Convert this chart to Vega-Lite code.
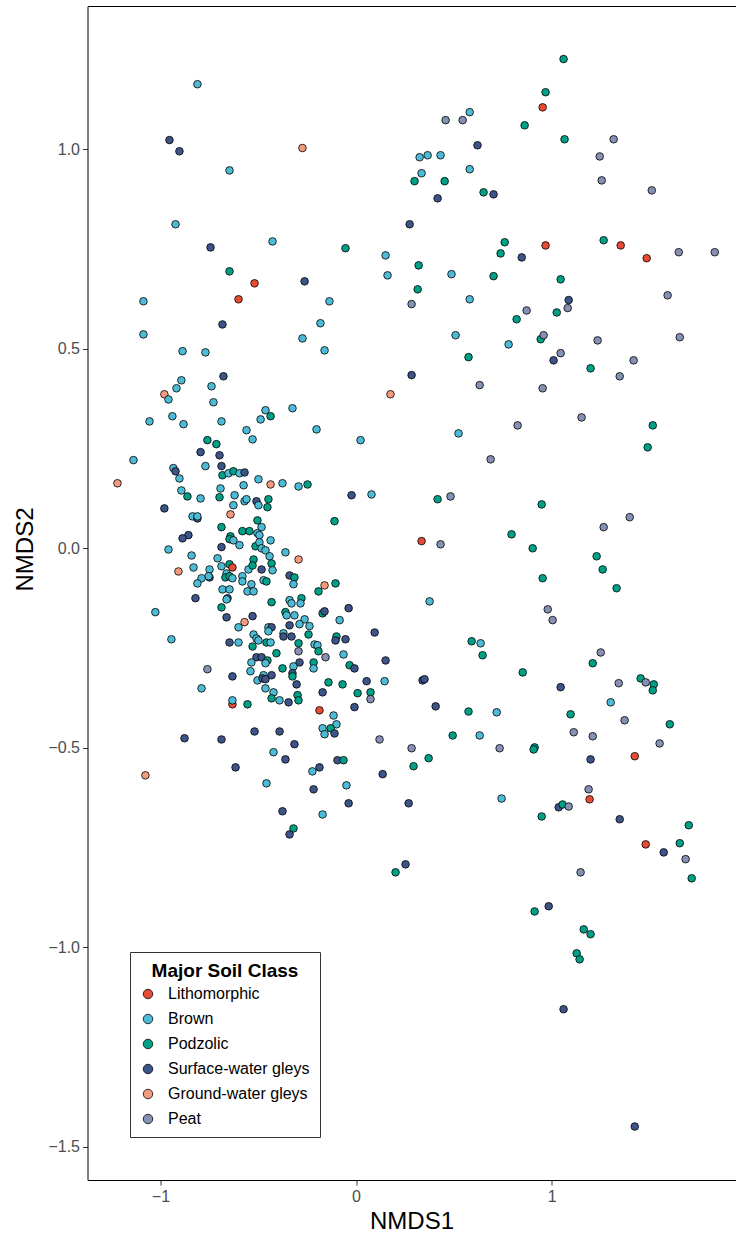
{
"$schema": "https://vega.github.io/schema/vega-lite/v6.json",
"width": 648,
"height": 1174,
"autosize": {"type": "none"},
"padding": {"left": 87.5, "top": 6, "right": 0, "bottom": 57},
"config": {"view": {"stroke": null}, "font": "Liberation Sans"},
"data": {"values": [
{"nmds1":-0.811,"nmds2":1.163,"soil":"Brown"},
{"nmds1":-0.954,"nmds2":1.023,"soil":"Surface-water gleys"},
{"nmds1":-0.903,"nmds2":0.995,"soil":"Surface-water gleys"},
{"nmds1":-0.274,"nmds2":1.003,"soil":"Ground-water gleys"},
{"nmds1":-0.647,"nmds2":0.947,"soil":"Brown"},
{"nmds1":-0.923,"nmds2":0.812,"soil":"Brown"},
{"nmds1":-0.744,"nmds2":0.754,"soil":"Surface-water gleys"},
{"nmds1":-0.427,"nmds2":0.769,"soil":"Brown"},
{"nmds1":-0.054,"nmds2":0.752,"soil":"Podzolic"},
{"nmds1":-0.647,"nmds2":0.694,"soil":"Podzolic"},
{"nmds1":-0.519,"nmds2":0.664,"soil":"Lithomorphic"},
{"nmds1":-0.263,"nmds2":0.669,"soil":"Surface-water gleys"},
{"nmds1":-1.087,"nmds2":0.619,"soil":"Brown"},
{"nmds1":-0.601,"nmds2":0.624,"soil":"Lithomorphic"},
{"nmds1":-0.136,"nmds2":0.619,"soil":"Brown"},
{"nmds1":1.061,"nmds2":1.226,"soil":"Podzolic"},
{"nmds1":0.969,"nmds2":1.143,"soil":"Podzolic"},
{"nmds1":0.954,"nmds2":1.105,"soil":"Lithomorphic"},
{"nmds1":0.458,"nmds2":1.073,"soil":"Peat"},
{"nmds1":0.545,"nmds2":1.073,"soil":"Peat"},
{"nmds1":0.581,"nmds2":1.093,"soil":"Brown"},
{"nmds1":0.862,"nmds2":1.060,"soil":"Podzolic"},
{"nmds1":0.621,"nmds2":1.010,"soil":"Surface-water gleys"},
{"nmds1":1.066,"nmds2":1.025,"soil":"Podzolic"},
{"nmds1":1.317,"nmds2":1.025,"soil":"Peat"},
{"nmds1":1.246,"nmds2":0.982,"soil":"Peat"},
{"nmds1":0.325,"nmds2":0.980,"soil":"Brown"},
{"nmds1":0.366,"nmds2":0.985,"soil":"Brown"},
{"nmds1":0.432,"nmds2":0.985,"soil":"Brown"},
{"nmds1":0.581,"nmds2":0.950,"soil":"Brown"},
{"nmds1":0.335,"nmds2":0.940,"soil":"Brown"},
{"nmds1":0.299,"nmds2":0.920,"soil":"Podzolic"},
{"nmds1":0.453,"nmds2":0.920,"soil":"Podzolic"},
{"nmds1":1.256,"nmds2":0.922,"soil":"Peat"},
{"nmds1":0.652,"nmds2":0.892,"soil":"Podzolic"},
{"nmds1":0.703,"nmds2":0.887,"soil":"Surface-water gleys"},
{"nmds1":0.417,"nmds2":0.877,"soil":"Surface-water gleys"},
{"nmds1":1.512,"nmds2":0.897,"soil":"Peat"},
{"nmds1":0.274,"nmds2":0.812,"soil":"Surface-water gleys"},
{"nmds1":0.151,"nmds2":0.734,"soil":"Brown"},
{"nmds1":0.760,"nmds2":0.767,"soil":"Podzolic"},
{"nmds1":0.739,"nmds2":0.739,"soil":"Podzolic"},
{"nmds1":0.847,"nmds2":0.729,"soil":"Surface-water gleys"},
{"nmds1":0.969,"nmds2":0.759,"soil":"Lithomorphic"},
{"nmds1":1.266,"nmds2":0.772,"soil":"Podzolic"},
{"nmds1":1.353,"nmds2":0.759,"soil":"Lithomorphic"},
{"nmds1":1.486,"nmds2":0.727,"soil":"Lithomorphic"},
{"nmds1":1.650,"nmds2":0.742,"soil":"Peat"},
{"nmds1":1.834,"nmds2":0.742,"soil":"Peat"},
{"nmds1":0.161,"nmds2":0.684,"soil":"Brown"},
{"nmds1":0.320,"nmds2":0.709,"soil":"Podzolic"},
{"nmds1":0.488,"nmds2":0.687,"soil":"Brown"},
{"nmds1":0.703,"nmds2":0.682,"soil":"Podzolic"},
{"nmds1":1.046,"nmds2":0.674,"soil":"Podzolic"},
{"nmds1":0.315,"nmds2":0.649,"soil":"Podzolic"},
{"nmds1":0.581,"nmds2":0.624,"soil":"Brown"},
{"nmds1":1.087,"nmds2":0.622,"soil":"Surface-water gleys"},
{"nmds1":1.593,"nmds2":0.634,"soil":"Peat"},
{"nmds1":0.284,"nmds2":0.612,"soil":"Peat"},
{"nmds1":1.082,"nmds2":0.602,"soil":"Peat"},
{"nmds1":0.872,"nmds2":0.596,"soil":"Peat"},
{"nmds1":1.026,"nmds2":0.591,"soil":"Podzolic"},
{"nmds1":0.821,"nmds2":0.574,"soil":"Podzolic"},
{"nmds1":0.509,"nmds2":0.534,"soil":"Brown"},
{"nmds1":0.780,"nmds2":0.511,"soil":"Brown"},
{"nmds1":0.944,"nmds2":0.524,"soil":"Podzolic"},
{"nmds1":0.959,"nmds2":0.534,"soil":"Peat"},
{"nmds1":1.235,"nmds2":0.521,"soil":"Peat"},
{"nmds1":1.655,"nmds2":0.529,"soil":"Peat"},
{"nmds1":1.046,"nmds2":0.489,"soil":"Peat"},
{"nmds1":1.010,"nmds2":0.471,"soil":"Surface-water gleys"},
{"nmds1":0.575,"nmds2":0.479,"soil":"Podzolic"},
{"nmds1":1.199,"nmds2":0.451,"soil":"Podzolic"},
{"nmds1":1.419,"nmds2":0.471,"soil":"Peat"},
{"nmds1":1.348,"nmds2":0.431,"soil":"Peat"},
{"nmds1":0.632,"nmds2":0.409,"soil":"Peat"},
{"nmds1":0.954,"nmds2":0.401,"soil":"Peat"},
{"nmds1":1.153,"nmds2":0.328,"soil":"Peat"},
{"nmds1":0.826,"nmds2":0.308,"soil":"Peat"},
{"nmds1":1.517,"nmds2":0.308,"soil":"Podzolic"},
{"nmds1":1.491,"nmds2":0.253,"soil":"Podzolic"},
{"nmds1":0.524,"nmds2":0.288,"soil":"Brown"},
{"nmds1":0.688,"nmds2":0.223,"soil":"Peat"},
{"nmds1":0.417,"nmds2":0.123,"soil":"Podzolic"},
{"nmds1":0.483,"nmds2":0.130,"soil":"Peat"},
{"nmds1":0.949,"nmds2":0.110,"soil":"Podzolic"},
{"nmds1":1.399,"nmds2":0.078,"soil":"Peat"},
{"nmds1":1.266,"nmds2":0.053,"soil":"Peat"},
{"nmds1":0.795,"nmds2":0.035,"soil":"Podzolic"},
{"nmds1":0.903,"nmds2":0.000,"soil":"Podzolic"},
{"nmds1":1.230,"nmds2":-0.020,"soil":"Podzolic"},
{"nmds1":0.335,"nmds2":0.018,"soil":"Lithomorphic"},
{"nmds1":0.432,"nmds2":0.010,"soil":"Peat"},
{"nmds1":-0.182,"nmds2":0.564,"soil":"Brown"},
{"nmds1":-0.274,"nmds2":0.526,"soil":"Brown"},
{"nmds1":-0.161,"nmds2":0.496,"soil":"Brown"},
{"nmds1":0.284,"nmds2":0.434,"soil":"Surface-water gleys"},
{"nmds1":0.176,"nmds2":0.386,"soil":"Ground-water gleys"},
{"nmds1":-0.463,"nmds2":0.346,"soil":"Brown"},
{"nmds1":-0.488,"nmds2":0.323,"soil":"Brown"},
{"nmds1":-0.437,"nmds2":0.331,"soil":"Podzolic"},
{"nmds1":-0.325,"nmds2":0.351,"soil":"Brown"},
{"nmds1":-0.202,"nmds2":0.298,"soil":"Brown"},
{"nmds1":-0.529,"nmds2":0.273,"soil":"Brown"},
{"nmds1":0.023,"nmds2":0.271,"soil":"Brown"},
{"nmds1":-0.499,"nmds2":0.173,"soil":"Brown"},
{"nmds1":-0.437,"nmds2":0.160,"soil":"Ground-water gleys"},
{"nmds1":-0.376,"nmds2":0.163,"soil":"Brown"},
{"nmds1":-0.294,"nmds2":0.155,"soil":"Brown"},
{"nmds1":-0.248,"nmds2":0.160,"soil":"Podzolic"},
{"nmds1":-0.023,"nmds2":0.133,"soil":"Surface-water gleys"},
{"nmds1":0.079,"nmds2":0.135,"soil":"Brown"},
{"nmds1":-0.683,"nmds2":0.561,"soil":"Surface-water gleys"},
{"nmds1":-1.087,"nmds2":0.536,"soil":"Brown"},
{"nmds1":-0.887,"nmds2":0.494,"soil":"Brown"},
{"nmds1":-0.770,"nmds2":0.491,"soil":"Brown"},
{"nmds1":-0.678,"nmds2":0.431,"soil":"Surface-water gleys"},
{"nmds1":-0.893,"nmds2":0.421,"soil":"Brown"},
{"nmds1":-0.918,"nmds2":0.401,"soil":"Brown"},
{"nmds1":-0.739,"nmds2":0.406,"soil":"Brown"},
{"nmds1":-0.980,"nmds2":0.386,"soil":"Ground-water gleys"},
{"nmds1":-0.959,"nmds2":0.373,"soil":"Brown"},
{"nmds1":-0.729,"nmds2":0.366,"soil":"Brown"},
{"nmds1":-1.056,"nmds2":0.318,"soil":"Brown"},
{"nmds1":-0.939,"nmds2":0.331,"soil":"Brown"},
{"nmds1":-0.882,"nmds2":0.311,"soil":"Brown"},
{"nmds1":-0.688,"nmds2":0.318,"soil":"Brown"},
{"nmds1":-0.560,"nmds2":0.296,"soil":"Brown"},
{"nmds1":-0.760,"nmds2":0.271,"soil":"Podzolic"},
{"nmds1":-0.714,"nmds2":0.261,"soil":"Podzolic"},
{"nmds1":-0.795,"nmds2":0.241,"soil":"Surface-water gleys"},
{"nmds1":-0.698,"nmds2":0.233,"soil":"Surface-water gleys"},
{"nmds1":-1.138,"nmds2":0.221,"soil":"Brown"},
{"nmds1":-0.934,"nmds2":0.201,"soil":"Brown"},
{"nmds1":-0.923,"nmds2":0.193,"soil":"Surface-water gleys"},
{"nmds1":-0.903,"nmds2":0.175,"soil":"Brown"},
{"nmds1":-0.770,"nmds2":0.206,"soil":"Brown"},
{"nmds1":-0.688,"nmds2":0.206,"soil":"Surface-water gleys"},
{"nmds1":-0.683,"nmds2":0.183,"soil":"Podzolic"},
{"nmds1":-0.652,"nmds2":0.188,"soil":"Brown"},
{"nmds1":-0.627,"nmds2":0.193,"soil":"Podzolic"},
{"nmds1":-0.596,"nmds2":0.188,"soil":"Brown"},
{"nmds1":-0.570,"nmds2":0.190,"soil":"Surface-water gleys"},
{"nmds1":-1.220,"nmds2":0.163,"soil":"Ground-water gleys"},
{"nmds1":-0.575,"nmds2":0.158,"soil":"Brown"},
{"nmds1":-0.693,"nmds2":0.150,"soil":"Brown"},
{"nmds1":-0.893,"nmds2":0.145,"soil":"Brown"},
{"nmds1":-0.862,"nmds2":0.130,"soil":"Podzolic"},
{"nmds1":-0.795,"nmds2":0.125,"soil":"Brown"},
{"nmds1":-0.698,"nmds2":0.128,"soil":"Podzolic"},
{"nmds1":-0.621,"nmds2":0.133,"soil":"Brown"},
{"nmds1":-0.627,"nmds2":0.108,"soil":"Brown"},
{"nmds1":-0.570,"nmds2":0.118,"soil":"Brown"},
{"nmds1":-0.560,"nmds2":0.123,"soil":"Brown"},
{"nmds1":-0.509,"nmds2":0.118,"soil":"Surface-water gleys"},
{"nmds1":-0.980,"nmds2":0.100,"soil":"Surface-water gleys"},
{"nmds1":-0.836,"nmds2":0.080,"soil":"Brown"},
{"nmds1":-0.811,"nmds2":0.075,"soil":"Surface-water gleys"},
{"nmds1":-0.811,"nmds2":0.080,"soil":"Brown"},
{"nmds1":-0.642,"nmds2":0.085,"soil":"Ground-water gleys"},
{"nmds1":-0.688,"nmds2":0.053,"soil":"Podzolic"},
{"nmds1":-0.581,"nmds2":0.043,"soil":"Podzolic"},
{"nmds1":-0.545,"nmds2":0.043,"soil":"Podzolic"},
{"nmds1":-0.504,"nmds2":0.070,"soil":"Podzolic"},
{"nmds1":-0.857,"nmds2":0.033,"soil":"Surface-water gleys"},
{"nmds1":-0.887,"nmds2":0.025,"soil":"Surface-water gleys"},
{"nmds1":-0.642,"nmds2":0.030,"soil":"Podzolic"},
{"nmds1":-0.647,"nmds2":0.023,"soil":"Podzolic"},
{"nmds1":-0.627,"nmds2":0.020,"soil":"Brown"},
{"nmds1":-0.596,"nmds2":0.008,"soil":"Brown"},
{"nmds1":-0.514,"nmds2":0.005,"soil":"Podzolic"},
{"nmds1":-0.504,"nmds2":0.038,"soil":"Brown"},
{"nmds1":-0.959,"nmds2":-0.003,"soil":"Brown"},
{"nmds1":-0.688,"nmds2":0.003,"soil":"Surface-water gleys"},
{"nmds1":-0.841,"nmds2":-0.018,"soil":"Brown"},
{"nmds1":-0.708,"nmds2":-0.025,"soil":"Brown"},
{"nmds1":-0.524,"nmds2":-0.028,"soil":"Podzolic"},
{"nmds1":-0.831,"nmds2":-0.048,"soil":"Brown"},
{"nmds1":-0.908,"nmds2":-0.058,"soil":"Ground-water gleys"},
{"nmds1":-0.749,"nmds2":-0.053,"soil":"Brown"},
{"nmds1":-0.688,"nmds2":-0.045,"soil":"Brown"},
{"nmds1":-0.647,"nmds2":-0.040,"soil":"Podzolic"},
{"nmds1":-0.632,"nmds2":-0.048,"soil":"Lithomorphic"},
{"nmds1":-0.662,"nmds2":-0.063,"soil":"Brown"},
{"nmds1":-0.668,"nmds2":-0.073,"soil":"Podzolic"},
{"nmds1":-0.647,"nmds2":-0.070,"soil":"Podzolic"},
{"nmds1":-0.632,"nmds2":-0.075,"soil":"Brown"},
{"nmds1":-0.581,"nmds2":-0.070,"soil":"Brown"},
{"nmds1":-0.550,"nmds2":-0.053,"soil":"Brown"},
{"nmds1":-0.529,"nmds2":-0.043,"soil":"Podzolic"},
{"nmds1":-0.749,"nmds2":-0.073,"soil":"Surface-water gleys"},
{"nmds1":-0.754,"nmds2":-0.070,"soil":"Brown"},
{"nmds1":-0.790,"nmds2":-0.075,"soil":"Brown"},
{"nmds1":-0.811,"nmds2":-0.088,"soil":"Brown"},
{"nmds1":-0.581,"nmds2":-0.083,"soil":"Brown"},
{"nmds1":-0.535,"nmds2":-0.090,"soil":"Brown"},
{"nmds1":-0.555,"nmds2":-0.108,"soil":"Brown"},
{"nmds1":-0.524,"nmds2":-0.108,"soil":"Brown"},
{"nmds1":-0.683,"nmds2":-0.103,"soil":"Brown"},
{"nmds1":-0.647,"nmds2":-0.103,"soil":"Brown"},
{"nmds1":-0.657,"nmds2":-0.125,"soil":"Surface-water gleys"},
{"nmds1":-0.662,"nmds2":-0.128,"soil":"Brown"},
{"nmds1":-0.821,"nmds2":-0.125,"soil":"Surface-water gleys"},
{"nmds1":-0.688,"nmds2":-0.148,"soil":"Podzolic"},
{"nmds1":-1.026,"nmds2":-0.160,"soil":"Brown"},
{"nmds1":-0.662,"nmds2":-0.173,"soil":"Surface-water gleys"},
{"nmds1":-0.529,"nmds2":-0.170,"soil":"Surface-water gleys"},
{"nmds1":-0.570,"nmds2":-0.185,"soil":"Ground-water gleys"},
{"nmds1":-0.601,"nmds2":-0.198,"soil":"Brown"},
{"nmds1":-0.524,"nmds2":-0.216,"soil":"Brown"},
{"nmds1":-0.509,"nmds2":-0.226,"soil":"Brown"},
{"nmds1":-0.944,"nmds2":-0.228,"soil":"Brown"},
{"nmds1":-0.647,"nmds2":-0.236,"soil":"Surface-water gleys"},
{"nmds1":-0.601,"nmds2":-0.236,"soil":"Brown"},
{"nmds1":-0.529,"nmds2":-0.246,"soil":"Podzolic"},
{"nmds1":-0.499,"nmds2":0.108,"soil":"Brown"},
{"nmds1":-0.448,"nmds2":0.123,"soil":"Podzolic"},
{"nmds1":-0.453,"nmds2":0.103,"soil":"Podzolic"},
{"nmds1":-0.110,"nmds2":0.068,"soil":"Podzolic"},
{"nmds1":-0.483,"nmds2":0.053,"soil":"Brown"},
{"nmds1":-0.494,"nmds2":0.033,"soil":"Brown"},
{"nmds1":-0.437,"nmds2":0.020,"soil":"Brown"},
{"nmds1":-0.494,"nmds2":0.015,"soil":"Brown"},
{"nmds1":-0.483,"nmds2":0.000,"soil":"Brown"},
{"nmds1":-0.463,"nmds2":-0.005,"soil":"Brown"},
{"nmds1":-0.442,"nmds2":-0.020,"soil":"Brown"},
{"nmds1":-0.432,"nmds2":-0.038,"soil":"Podzolic"},
{"nmds1":-0.483,"nmds2":-0.053,"soil":"Surface-water gleys"},
{"nmds1":-0.427,"nmds2":-0.055,"soil":"Brown"},
{"nmds1":-0.361,"nmds2":-0.010,"soil":"Brown"},
{"nmds1":-0.294,"nmds2":-0.028,"soil":"Ground-water gleys"},
{"nmds1":-0.340,"nmds2":-0.068,"soil":"Surface-water gleys"},
{"nmds1":-0.315,"nmds2":-0.073,"soil":"Podzolic"},
{"nmds1":-0.320,"nmds2":-0.090,"soil":"Brown"},
{"nmds1":-0.473,"nmds2":-0.080,"soil":"Brown"},
{"nmds1":-0.458,"nmds2":-0.083,"soil":"Podzolic"},
{"nmds1":-0.161,"nmds2":-0.093,"soil":"Ground-water gleys"},
{"nmds1":-0.105,"nmds2":-0.088,"soil":"Podzolic"},
{"nmds1":-0.192,"nmds2":-0.108,"soil":"Podzolic"},
{"nmds1":0.376,"nmds2":-0.133,"soil":"Brown"},
{"nmds1":-0.432,"nmds2":-0.135,"soil":"Podzolic"},
{"nmds1":-0.340,"nmds2":-0.130,"soil":"Brown"},
{"nmds1":-0.330,"nmds2":-0.138,"soil":"Brown"},
{"nmds1":-0.279,"nmds2":-0.125,"soil":"Podzolic"},
{"nmds1":-0.284,"nmds2":-0.138,"soil":"Brown"},
{"nmds1":-0.361,"nmds2":-0.160,"soil":"Podzolic"},
{"nmds1":-0.355,"nmds2":-0.168,"soil":"Brown"},
{"nmds1":-0.315,"nmds2":-0.168,"soil":"Brown"},
{"nmds1":-0.263,"nmds2":-0.178,"soil":"Brown"},
{"nmds1":-0.289,"nmds2":-0.190,"soil":"Brown"},
{"nmds1":-0.238,"nmds2":-0.195,"soil":"Brown"},
{"nmds1":-0.340,"nmds2":-0.193,"soil":"Surface-water gleys"},
{"nmds1":-0.171,"nmds2":-0.163,"soil":"Podzolic"},
{"nmds1":-0.161,"nmds2":-0.158,"soil":"Surface-water gleys"},
{"nmds1":-0.038,"nmds2":-0.150,"soil":"Surface-water gleys"},
{"nmds1":-0.084,"nmds2":-0.180,"soil":"Brown"},
{"nmds1":-0.448,"nmds2":-0.198,"soil":"Brown"},
{"nmds1":-0.432,"nmds2":-0.198,"soil":"Surface-water gleys"},
{"nmds1":-0.448,"nmds2":-0.208,"soil":"Brown"},
{"nmds1":-0.499,"nmds2":-0.231,"soil":"Brown"},
{"nmds1":-0.371,"nmds2":-0.213,"soil":"Brown"},
{"nmds1":-0.371,"nmds2":-0.221,"soil":"Surface-water gleys"},
{"nmds1":-0.330,"nmds2":-0.221,"soil":"Surface-water gleys"},
{"nmds1":-0.243,"nmds2":-0.216,"soil":"Podzolic"},
{"nmds1":-0.100,"nmds2":-0.221,"soil":"Podzolic"},
{"nmds1":-0.105,"nmds2":-0.231,"soil":"Surface-water gleys"},
{"nmds1":-0.054,"nmds2":-0.228,"soil":"Surface-water gleys"},
{"nmds1":0.095,"nmds2":-0.211,"soil":"Surface-water gleys"},
{"nmds1":-0.458,"nmds2":-0.236,"soil":"Podzolic"},
{"nmds1":-0.437,"nmds2":-0.236,"soil":"Brown"},
{"nmds1":-0.294,"nmds2":-0.238,"soil":"Podzolic"},
{"nmds1":-0.212,"nmds2":-0.241,"soil":"Brown"},
{"nmds1":-0.197,"nmds2":-0.243,"soil":"Brown"},
{"nmds1":-0.192,"nmds2":-0.258,"soil":"Podzolic"},
{"nmds1":-0.294,"nmds2":-0.258,"soil":"Peat"},
{"nmds1":-0.156,"nmds2":-0.273,"soil":"Peat"},
{"nmds1":-0.064,"nmds2":-0.266,"soil":"Brown"},
{"nmds1":0.151,"nmds2":-0.281,"soil":"Surface-water gleys"},
{"nmds1":-0.509,"nmds2":-0.273,"soil":"Surface-water gleys"},
{"nmds1":-0.483,"nmds2":-0.273,"soil":"Surface-water gleys"},
{"nmds1":-0.453,"nmds2":-0.281,"soil":"Podzolic"},
{"nmds1":-0.463,"nmds2":-0.288,"soil":"Brown"},
{"nmds1":-0.535,"nmds2":-0.286,"soil":"Brown"},
{"nmds1":-0.407,"nmds2":-0.263,"soil":"Podzolic"},
{"nmds1":-0.289,"nmds2":-0.286,"soil":"Surface-water gleys"},
{"nmds1":-0.217,"nmds2":-0.286,"soil":"Podzolic"},
{"nmds1":-0.320,"nmds2":-0.296,"soil":"Brown"},
{"nmds1":-0.376,"nmds2":-0.301,"soil":"Podzolic"},
{"nmds1":-0.217,"nmds2":-0.301,"soil":"Brown"},
{"nmds1":-0.033,"nmds2":-0.293,"soil":"Podzolic"},
{"nmds1":-0.008,"nmds2":-0.301,"soil":"Surface-water gleys"},
{"nmds1":-0.540,"nmds2":-0.308,"soil":"Brown"},
{"nmds1":-0.432,"nmds2":-0.318,"soil":"Surface-water gleys"},
{"nmds1":-0.473,"nmds2":-0.318,"soil":"Brown"},
{"nmds1":-0.325,"nmds2":-0.313,"soil":"Surface-water gleys"},
{"nmds1":-0.325,"nmds2":-0.321,"soil":"Podzolic"},
{"nmds1":-0.504,"nmds2":-0.331,"soil":"Brown"},
{"nmds1":-0.478,"nmds2":-0.326,"soil":"Surface-water gleys"},
{"nmds1":-0.463,"nmds2":-0.328,"soil":"Surface-water gleys"},
{"nmds1":-0.141,"nmds2":-0.336,"soil":"Podzolic"},
{"nmds1":-0.069,"nmds2":-0.341,"soil":"Podzolic"},
{"nmds1":0.054,"nmds2":-0.333,"soil":"Surface-water gleys"},
{"nmds1":0.146,"nmds2":-0.333,"soil":"Brown"},
{"nmds1":0.340,"nmds2":-0.331,"soil":"Surface-water gleys"},
{"nmds1":0.350,"nmds2":-0.328,"soil":"Surface-water gleys"},
{"nmds1":-0.304,"nmds2":-0.341,"soil":"Surface-water gleys"},
{"nmds1":-0.463,"nmds2":-0.351,"soil":"Brown"},
{"nmds1":-0.422,"nmds2":-0.361,"soil":"Brown"},
{"nmds1":-0.432,"nmds2":-0.376,"soil":"Podzolic"},
{"nmds1":-0.391,"nmds2":-0.381,"soil":"Brown"},
{"nmds1":-0.345,"nmds2":-0.386,"soil":"Surface-water gleys"},
{"nmds1":-0.299,"nmds2":-0.368,"soil":"Podzolic"},
{"nmds1":-0.294,"nmds2":-0.381,"soil":"Podzolic"},
{"nmds1":-0.171,"nmds2":-0.361,"soil":"Surface-water gleys"},
{"nmds1":0.008,"nmds2":-0.363,"soil":"Podzolic"},
{"nmds1":0.074,"nmds2":-0.361,"soil":"Podzolic"},
{"nmds1":0.074,"nmds2":-0.378,"soil":"Peat"},
{"nmds1":-0.008,"nmds2":-0.398,"soil":"Surface-water gleys"},
{"nmds1":-0.187,"nmds2":-0.406,"soil":"Lithomorphic"},
{"nmds1":-0.115,"nmds2":-0.419,"soil":"Brown"},
{"nmds1":-0.100,"nmds2":-0.441,"soil":"Brown"},
{"nmds1":-0.130,"nmds2":-0.451,"soil":"Podzolic"},
{"nmds1":-0.171,"nmds2":-0.451,"soil":"Brown"},
{"nmds1":-0.161,"nmds2":-0.466,"soil":"Brown"},
{"nmds1":-0.110,"nmds2":-0.464,"soil":"Surface-water gleys"},
{"nmds1":-0.519,"nmds2":-0.459,"soil":"Surface-water gleys"},
{"nmds1":-0.391,"nmds2":-0.459,"soil":"Surface-water gleys"},
{"nmds1":-0.315,"nmds2":-0.491,"soil":"Surface-water gleys"},
{"nmds1":-0.422,"nmds2":-0.511,"soil":"Brown"},
{"nmds1":-0.361,"nmds2":-0.529,"soil":"Surface-water gleys"},
{"nmds1":0.120,"nmds2":-0.479,"soil":"Peat"},
{"nmds1":0.284,"nmds2":-0.501,"soil":"Peat"},
{"nmds1":0.371,"nmds2":-0.526,"soil":"Podzolic"},
{"nmds1":-0.095,"nmds2":-0.531,"soil":"Surface-water gleys"},
{"nmds1":-0.064,"nmds2":-0.531,"soil":"Podzolic"},
{"nmds1":-0.187,"nmds2":-0.549,"soil":"Surface-water gleys"},
{"nmds1":-0.223,"nmds2":-0.559,"soil":"Brown"},
{"nmds1":0.294,"nmds2":-0.546,"soil":"Podzolic"},
{"nmds1":0.136,"nmds2":-0.566,"soil":"Surface-water gleys"},
{"nmds1":-0.458,"nmds2":-0.589,"soil":"Brown"},
{"nmds1":-0.217,"nmds2":-0.604,"soil":"Surface-water gleys"},
{"nmds1":-0.049,"nmds2":-0.594,"soil":"Brown"},
{"nmds1":-0.038,"nmds2":-0.639,"soil":"Surface-water gleys"},
{"nmds1":0.269,"nmds2":-0.639,"soil":"Surface-water gleys"},
{"nmds1":-0.376,"nmds2":-0.659,"soil":"Surface-water gleys"},
{"nmds1":-0.171,"nmds2":-0.667,"soil":"Brown"},
{"nmds1":-0.320,"nmds2":-0.702,"soil":"Podzolic"},
{"nmds1":-0.340,"nmds2":-0.717,"soil":"Surface-water gleys"},
{"nmds1":-0.760,"nmds2":-0.303,"soil":"Peat"},
{"nmds1":-0.632,"nmds2":-0.321,"soil":"Surface-water gleys"},
{"nmds1":-0.790,"nmds2":-0.351,"soil":"Brown"},
{"nmds1":-0.632,"nmds2":-0.391,"soil":"Lithomorphic"},
{"nmds1":-0.632,"nmds2":-0.381,"soil":"Brown"},
{"nmds1":-0.555,"nmds2":-0.391,"soil":"Podzolic"},
{"nmds1":-0.877,"nmds2":-0.476,"soil":"Surface-water gleys"},
{"nmds1":-0.688,"nmds2":-0.479,"soil":"Surface-water gleys"},
{"nmds1":-0.616,"nmds2":-0.549,"soil":"Surface-water gleys"},
{"nmds1":-1.077,"nmds2":-0.569,"soil":"Ground-water gleys"},
{"nmds1":1.261,"nmds2":-0.053,"soil":"Podzolic"},
{"nmds1":0.954,"nmds2":-0.075,"soil":"Podzolic"},
{"nmds1":1.332,"nmds2":-0.100,"soil":"Podzolic"},
{"nmds1":0.980,"nmds2":-0.153,"soil":"Peat"},
{"nmds1":1.005,"nmds2":-0.180,"soil":"Peat"},
{"nmds1":0.591,"nmds2":-0.233,"soil":"Podzolic"},
{"nmds1":0.637,"nmds2":-0.238,"soil":"Brown"},
{"nmds1":0.647,"nmds2":-0.268,"soil":"Podzolic"},
{"nmds1":1.251,"nmds2":-0.261,"soil":"Peat"},
{"nmds1":1.210,"nmds2":-0.288,"soil":"Podzolic"},
{"nmds1":0.852,"nmds2":-0.311,"soil":"Podzolic"},
{"nmds1":1.046,"nmds2":-0.348,"soil":"Surface-water gleys"},
{"nmds1":1.343,"nmds2":-0.338,"soil":"Peat"},
{"nmds1":1.455,"nmds2":-0.326,"soil":"Podzolic"},
{"nmds1":1.481,"nmds2":-0.336,"soil":"Peat"},
{"nmds1":1.522,"nmds2":-0.341,"soil":"Podzolic"},
{"nmds1":1.517,"nmds2":-0.356,"soil":"Podzolic"},
{"nmds1":1.302,"nmds2":-0.386,"soil":"Brown"},
{"nmds1":0.407,"nmds2":-0.396,"soil":"Surface-water gleys"},
{"nmds1":0.575,"nmds2":-0.409,"soil":"Podzolic"},
{"nmds1":0.719,"nmds2":-0.411,"soil":"Brown"},
{"nmds1":1.097,"nmds2":-0.416,"soil":"Podzolic"},
{"nmds1":1.373,"nmds2":-0.431,"soil":"Peat"},
{"nmds1":1.604,"nmds2":-0.441,"soil":"Podzolic"},
{"nmds1":0.494,"nmds2":-0.469,"soil":"Podzolic"},
{"nmds1":0.632,"nmds2":-0.469,"soil":"Brown"},
{"nmds1":1.113,"nmds2":-0.461,"soil":"Peat"},
{"nmds1":1.210,"nmds2":-0.471,"soil":"Peat"},
{"nmds1":1.552,"nmds2":-0.489,"soil":"Peat"},
{"nmds1":0.734,"nmds2":-0.501,"soil":"Peat"},
{"nmds1":0.913,"nmds2":-0.499,"soil":"Podzolic"},
{"nmds1":0.908,"nmds2":-0.504,"soil":"Podzolic"},
{"nmds1":1.199,"nmds2":-0.529,"soil":"Surface-water gleys"},
{"nmds1":1.425,"nmds2":-0.521,"soil":"Lithomorphic"},
{"nmds1":0.744,"nmds2":-0.627,"soil":"Brown"},
{"nmds1":1.189,"nmds2":-0.604,"soil":"Peat"},
{"nmds1":1.194,"nmds2":-0.629,"soil":"Lithomorphic"},
{"nmds1":1.036,"nmds2":-0.649,"soil":"Surface-water gleys"},
{"nmds1":1.056,"nmds2":-0.642,"soil":"Podzolic"},
{"nmds1":1.087,"nmds2":-0.647,"soil":"Peat"},
{"nmds1":0.949,"nmds2":-0.672,"soil":"Podzolic"},
{"nmds1":1.348,"nmds2":-0.679,"soil":"Surface-water gleys"},
{"nmds1":1.701,"nmds2":-0.694,"soil":"Podzolic"},
{"nmds1":1.481,"nmds2":-0.742,"soil":"Lithomorphic"},
{"nmds1":1.655,"nmds2":-0.739,"soil":"Podzolic"},
{"nmds1":1.573,"nmds2":-0.762,"soil":"Surface-water gleys"},
{"nmds1":1.685,"nmds2":-0.779,"soil":"Peat"},
{"nmds1":1.148,"nmds2":-0.812,"soil":"Peat"},
{"nmds1":1.716,"nmds2":-0.827,"soil":"Podzolic"},
{"nmds1":0.253,"nmds2":-0.792,"soil":"Surface-water gleys"},
{"nmds1":0.202,"nmds2":-0.812,"soil":"Podzolic"},
{"nmds1":0.985,"nmds2":-0.897,"soil":"Surface-water gleys"},
{"nmds1":0.913,"nmds2":-0.910,"soil":"Podzolic"},
{"nmds1":1.164,"nmds2":-0.955,"soil":"Podzolic"},
{"nmds1":1.199,"nmds2":-0.967,"soil":"Podzolic"},
{"nmds1":1.128,"nmds2":-1.015,"soil":"Podzolic"},
{"nmds1":1.143,"nmds2":-1.030,"soil":"Podzolic"},
{"nmds1":1.061,"nmds2":-1.155,"soil":"Surface-water gleys"},
{"nmds1":1.425,"nmds2":-1.449,"soil":"Surface-water gleys"}
]},
"layer": [
{
"mark": {"type": "point", "filled": true, "shape": "circle", "size": 58, "stroke": "black", "strokeWidth": 0.8, "opacity": 1},
"encoding": {
"x": {"field": "nmds1", "type": "quantitative",
"scale": {"domain": [-1.373, 1.94], "nice": false, "zero": false},
"axis": {"orient": "bottom", "values": [-1, 0, 1], "format": "d", "grid": false,
"domainColor": "black", "domainWidth": 1, "tickColor": "#333333", "tickSize": 5, "tickWidth": 1,
"labelFontSize": 16, "labelColor": "#4D4D4D", "labelPadding": 3,
"title": "NMDS1", "titleFontSize": 24, "titleFontWeight": "normal", "titleColor": "black", "titlePadding": 5}},
"y": {"field": "nmds2", "type": "quantitative",
"scale": {"domain": [-1.583, 1.359], "nice": false, "zero": false},
"axis": {"orient": "left", "values": [-1.5, -1, -0.5, 0, 0.5, 1], "format": ".1f", "grid": false,
"domainColor": "black", "domainWidth": 1, "tickColor": "#333333", "tickSize": 5, "tickWidth": 1,
"labelFontSize": 16, "labelColor": "#4D4D4D", "labelPadding": 3,
"title": "NMDS2", "titleFontSize": 24, "titleFontWeight": "normal", "titleColor": "black", "titlePadding": 10, "titleY": 543}},
"fill": {"field": "soil", "type": "nominal",
"scale": {"domain": ["Lithomorphic", "Brown", "Podzolic", "Surface-water gleys", "Ground-water gleys", "Peat"],
"range": ["#E64B35", "#4DBBD5", "#00A087", "#3C5488", "#F39B7F", "#8491B4"]},
"legend": {"title": "Major Soil Class", "orient": "none", "legendX": 42.5, "legendY": 946,
"strokeColor": "#333333", "fillColor": "white", "padding": 10,
"titleFontSize": 19, "titleFontWeight": "bold", "titleColor": "black", "titleAnchor": "middle", "titlePadding": 5,
"labelFontSize": 16, "labelColor": "black", "labelOffset": 12,
"symbolType": "circle", "symbolSize": 90, "symbolStrokeColor": "black", "symbolStrokeWidth": 0.8,
"rowPadding": 9}}
}
},
{
"mark": {"type": "point", "opacity": 0},
"encoding": {
"x": {"field": "nmds1", "type": "quantitative",
"axis": {"orient": "top", "labels": false, "ticks": false, "title": null, "grid": false, "domain": true, "domainColor": "black", "domainWidth": 1}},
"y": {"field": "nmds2", "type": "quantitative"}
}
}
],
"resolve": {"axis": {"x": "independent"}}
}
